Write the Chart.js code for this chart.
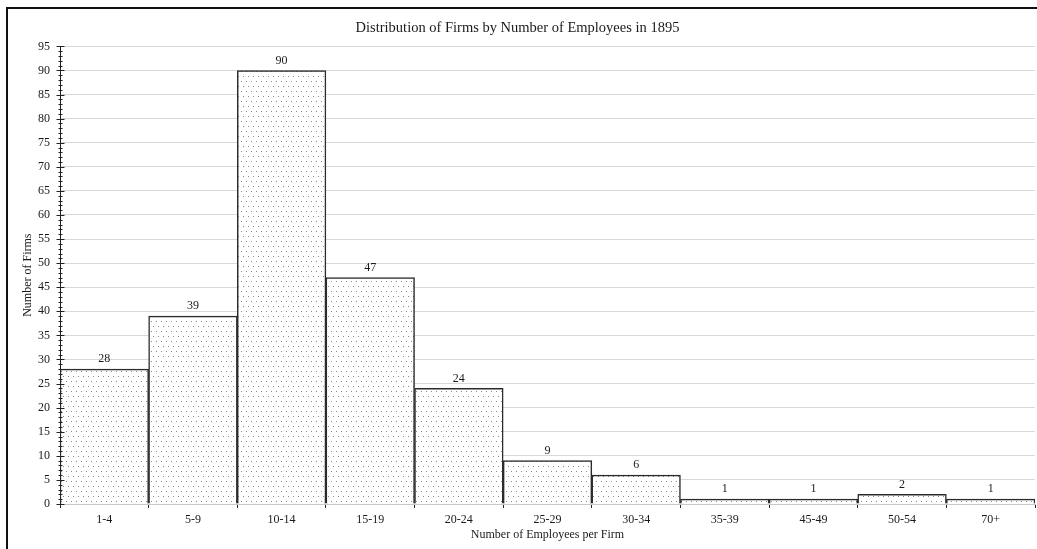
<!DOCTYPE html>
<html>
<head>
<meta charset="utf-8">
<script src="https://cdn.jsdelivr.net/npm/chart.js@4.4.1/dist/chart.umd.min.js"></script>
<style>
  html, body { margin: 0; padding: 0; background: #fff; overflow: hidden; }
  #wrap { position: relative; width: 1037px; height: 549px; overflow: hidden; }
  #frame { position: absolute; left: 6px; top: 7px; width: 1200px; height: 700px;
           border-top: 2px solid #111; border-left: 2px solid #111; }
  canvas { position: absolute; left: 0; top: 0; }
</style>
</head>
<body>
<div id="wrap">
  <div id="frame"></div>
  <canvas id="c" width="1037" height="549"></canvas>
</div>
<script>
const categories = ["1-4", "5-9", "10-14", "15-19", "20-24", "25-29", "30-34", "35-39", "45-49", "50-54", "70+"];
const firms = [28, 39, 90, 47, 24, 9, 6, 1, 1, 2, 1];
const yTicks = [0, 5, 10, 15, 20, 25, 30, 35, 40, 45, 50, 55, 60, 65, 70, 75, 80, 85, 90, 95];
const chartTitle = "Distribution of Firms by Number of Employees in 1895";
const xTitle = "Number of Employees per Firm";
const yTitle = "Number of Firms";

const SERIF = "'Liberation Serif', 'Times New Roman', serif";
const INK = '#1a1a1a';

function makePattern() {
  const p = document.createElement('canvas');
  p.width = 10; p.height = 10;
  const g = p.getContext('2d');
  g.fillStyle = '#ffffff';
  g.fillRect(0, 0, 10, 10);
  g.fillStyle = '#8a8a8a';
  [[1,1],[6,1],[3,6],[8,6]].forEach(([x,y]) => g.fillRect(x, y, 1, 1));
  return document.getElementById('c').getContext('2d').createPattern(p, 'repeat');
}

const extrasPlugin = {
  id: 'extras',
  afterDatasetsDraw(chart) {
    const ctx = chart.ctx;
    const y = chart.scales.y;
    ctx.save();
    // y axis minor and major tick marks
    ctx.strokeStyle = '#222';
    ctx.lineWidth = 1;
    const ax = Math.round(y.right) + 0.5;
    for (let v = y.min; v <= y.max; v++) {
      const py = Math.round(y.getPixelForValue(v)) + 0.5;
      const major = v % 5 === 0;
      ctx.beginPath();
      ctx.moveTo(ax - (major ? 4 : 2), py);
      ctx.lineTo(ax + (major ? 4 : 2), py);
      ctx.stroke();
    }
    // data labels
    ctx.fillStyle = INK;
    ctx.font = "12px " + SERIF;
    ctx.textAlign = 'center';
    ctx.textBaseline = 'bottom';
    const meta = chart.getDatasetMeta(0);
    meta.data.forEach((bar, i) => {
      ctx.fillText(String(firms[i]), bar.x, bar.y - 4);
    });
    ctx.restore();
  }
};

new Chart(document.getElementById('c'), {
  type: 'bar',
  data: {
    labels: categories,
    datasets: [{
      data: firms,
      backgroundColor: makePattern(),
      borderColor: '#2a2a2a',
      borderWidth: 1.5,
      borderSkipped: 'bottom',
      barPercentage: 1.0,
      categoryPercentage: 1.0
    }]
  },
  options: {
    responsive: false,
    animation: false,
    layout: { padding: { left: 0, right: 2, top: 0, bottom: 0 } },
    plugins: {
      legend: { display: false },
      tooltip: { enabled: false },
      title: {
        display: true,
        text: chartTitle,
        color: INK,
        font: { family: SERIF, size: 14.5, weight: 'normal' },
        padding: { top: 19, bottom: 10 }
      }
    },
    scales: {
      x: {
        grid: { display: true, offset: true, drawOnChartArea: false, drawTicks: true, tickLength: 4, color: '#222' },
        border: { display: true, color: '#c8c8c8', width: 1 },
        ticks: { color: INK, font: { family: SERIF, size: 12 }, padding: 5, maxRotation: 0 },
        title: { display: true, text: xTitle, color: INK, font: { family: SERIF, size: 12 }, padding: { top: 0, bottom: 7 } },
        afterFit(scale) { scale.height = 45; }
      },
      y: {
        min: 0,
        max: 95,
        afterBuildTicks(scale) { scale.ticks = yTicks.map(v => ({ value: v })); },
        grid: { color: '#d8d8d8', lineWidth: 1, drawTicks: false },
        border: { display: true, color: '#222', width: 1 },
        ticks: { color: INK, font: { family: SERIF, size: 12 }, padding: 10 },
        title: { display: true, text: yTitle, color: INK, font: { family: SERIF, size: 12 }, padding: { top: 21, bottom: 0 } },
        afterFit(scale) { scale.width = 60; }
      }
    }
  },
  plugins: [extrasPlugin]
});
</script>
</body>
</html>
